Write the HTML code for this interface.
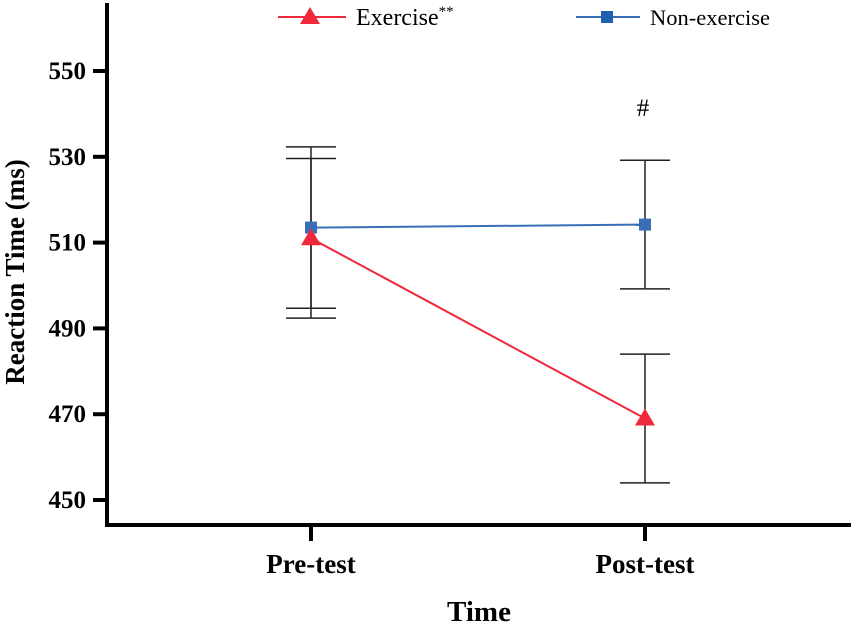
<!DOCTYPE html>
<html><head><meta charset="utf-8"><style>
body{margin:0;background:#fff;}
svg{display:block;font-family:"Liberation Serif",serif;}
</style></head><body>
<svg id="chart" width="851" height="626" viewBox="0 0 851 626"></svg>
<script>
const categories = ["Pre-test","Post-test"];
const exerciseMeans = [511.0, 469.0];
const exerciseErr = [18.6, 15.0];
const nonExerciseMeans = [513.5, 514.2];
const nonExerciseErr = [18.8, 15.0];
const yTicks = [450,470,490,510,530,550];

const svg = document.getElementById('chart');
const NS = 'http://www.w3.org/2000/svg';
const xPos = i => [311,645][i];
const y = v => 71 + (550 - v) * 4.29;
function mk(tag, attrs, parent){
  const e = document.createElementNS(NS, tag);
  for (const k in attrs) e.setAttribute(k, attrs[k]);
  (parent||svg).appendChild(e); return e;
}
let a = mk('path',{d:'M107,3 V525 H851',fill:'none',stroke:'#000','stroke-width':4});


yTicks.forEach(t=>{
  const l = mk('line',{x1:93,x2:107,y1:y(t),y2:y(t),stroke:'#000','stroke-width':4});
  
  
  const tx = mk('text',{x:86,y:y(t)+8,'text-anchor':'end','font-size':25,'font-weight':'bold'});
  tx.textContent = t;
  
  
});
categories.forEach((c,i)=>{
  const l = mk('line',{x1:xPos(i),x2:xPos(i),y1:525,y2:541,stroke:'#000','stroke-width':4});
  
  
  const tx = mk('text',{x:xPos(i),y:573,'text-anchor':'middle','font-size':27,'font-weight':'bold'});
  tx.textContent = c;
  
  
});
let xt = mk('text',{x:479,y:621,'text-anchor':'middle','font-size':29,'font-weight':'bold'});
xt.textContent='Time';


let yt = mk('text',{x:0,y:0,transform:'translate(24,272) rotate(-90)','text-anchor':'middle','font-size':27,'font-weight':'bold'});
yt.textContent='Reaction Time (ms)';


let hs = mk('text',{x:643,y:116,'text-anchor':'middle','font-size':25});
hs.textContent='#';



function errbars(means, errs){
  means.forEach((m,i)=>{
    const x=xPos(i), t=y(m+errs[i]), b=y(m-errs[i]);
    const g = mk('path',{d:`M${x},${t} V${b} M${x-25},${t} H${x+25} M${x-25},${b} H${x+25}`,stroke:'#222','stroke-width':1.5,fill:'none'});
    
    
  });
}
errbars(exerciseMeans, exerciseErr);
errbars(nonExerciseMeans, nonExerciseErr);

function series(means,color,shape,name){
  const p = mk('polyline',{points:means.map((m,i)=>xPos(i)+','+y(m)).join(' '),fill:'none',stroke:color,'stroke-width':2});
  
  
  means.forEach((m,i)=>drawMarker(xPos(i),y(m),color,shape,name+'-point'));
}
function drawMarker(cx,cy,color,shape,nm){
  let e;
  if(shape==='tri') e = mk('polygon',{points:`${cx},${cy-10} ${cx-10},${cy+7} ${cx+10},${cy+7}`,fill:color});
  else e = mk('rect',{x:cx-6,y:cy-6,width:12,height:12,fill:color});
  
  
}
series(nonExerciseMeans,'#3a6fb8','sq','non-exercise');
series(exerciseMeans,'#f0283c','tri','exercise');

let l1 = mk('line',{x1:278,x2:346,y1:17,y2:17,stroke:'#f0283c','stroke-width':2});


drawMarker(310,17,'#f0283c','tri','legend-exercise-marker');
let lt1 = mk('text',{x:356,y:25,'font-size':24});
lt1.innerHTML='Exercise<tspan font-size="15" dy="-9">**</tspan>';


let l2 = mk('line',{x1:576,x2:640,y1:17,y2:17,stroke:'#3a6fb8','stroke-width':2});


drawMarker(607,17,'#2060b0','sq','legend-non-exercise-marker');
let lt2 = mk('text',{x:650,y:25,'font-size':22.5});
lt2.textContent='Non-exercise';


</script>
</body></html>
